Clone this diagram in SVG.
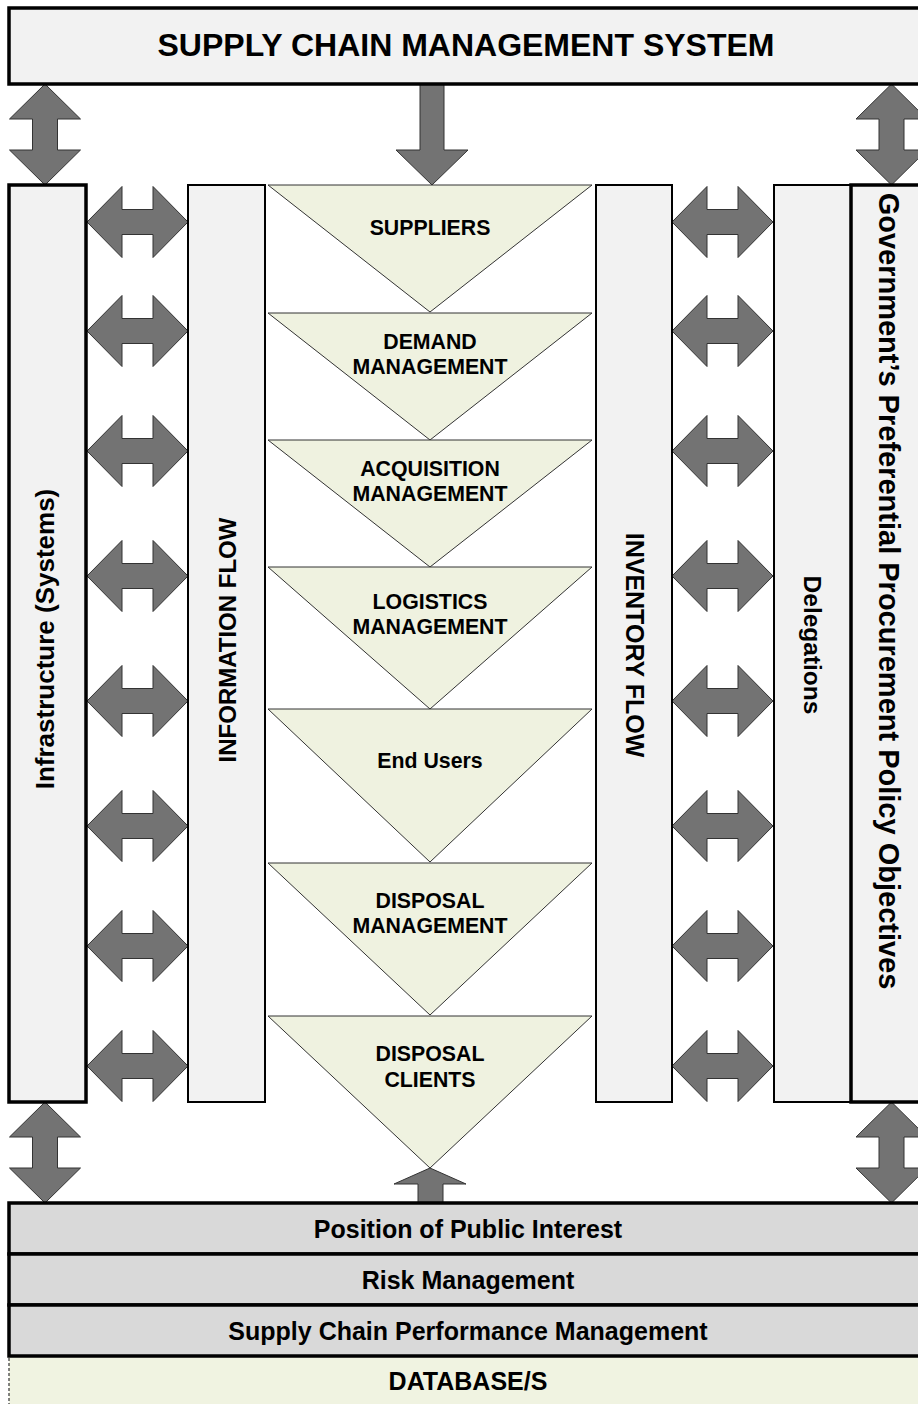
<svg xmlns="http://www.w3.org/2000/svg" xmlns:xlink="http://www.w3.org/1999/xlink" width="918" height="1404" viewBox="0 0 918 1404">
<style>
.box{fill:#F2F2F2;stroke:#000;stroke-width:2}
.thick{stroke-width:3.5}
.band{fill:#D9D9D9;stroke:#000;stroke-width:3.5}
.db{fill:#F0F3E1;stroke:#333;stroke-width:1.2;stroke-dasharray:3,2}
.tri{fill:#EFF2E0;stroke:#333;stroke-width:1}
.arr{fill:#737373;stroke:#333;stroke-width:1}
.t{font-family:"Liberation Sans",Arial,sans-serif;font-weight:bold;fill:#000;text-anchor:middle}
</style>
<defs>
<path id="harr" d="M0,0 L35,-35.5 L35,-12.5 L66,-12.5 L66,-35.5 L101,0 L66,35.5 L66,12.5 L35,12.5 L35,35.5 Z"/>
<path id="varr" d="M0,0 L35.5,35 L12.5,35 L12.5,66 L35.5,66 L0,101 L-35.5,66 L-12.5,66 L-12.5,35 L-35.5,35 Z"/>
</defs>
<rect width="918" height="1404" fill="#fff"/>

<g id="connectors">
<g class="arr">
<use xlink:href="#varr" x="45" y="84"/>
<use xlink:href="#varr" x="891.5" y="84"/>
<use xlink:href="#varr" x="45" y="1102"/>
<use xlink:href="#varr" x="891.5" y="1102"/>
<path d="M420,84 L444,84 L444,150 L468,150 L432,185 L396,150 L420,150 Z"/>
<path d="M430,1168 L466,1184 L443,1184 L443,1203 L418,1203 L418,1184 L394,1184 Z"/>
<use xlink:href="#harr" x="87" y="222"/>
<use xlink:href="#harr" x="87" y="331"/>
<use xlink:href="#harr" x="87" y="451"/>
<use xlink:href="#harr" x="87" y="576"/>
<use xlink:href="#harr" x="87" y="701"/>
<use xlink:href="#harr" x="87" y="826"/>
<use xlink:href="#harr" x="87" y="946"/>
<use xlink:href="#harr" x="87" y="1066"/>
<use xlink:href="#harr" x="672" y="222"/>
<use xlink:href="#harr" x="672" y="331"/>
<use xlink:href="#harr" x="672" y="451"/>
<use xlink:href="#harr" x="672" y="576"/>
<use xlink:href="#harr" x="672" y="701"/>
<use xlink:href="#harr" x="672" y="826"/>
<use xlink:href="#harr" x="672" y="946"/>
<use xlink:href="#harr" x="672" y="1066"/>
</g>
</g>

<g id="scm-system">
<rect class="box thick" x="9" y="8" width="916" height="76"/>
<text class="t" x="466" y="56" font-size="32">SUPPLY CHAIN MANAGEMENT SYSTEM</text>
</g>

<g id="infrastructure">
<rect class="box thick" x="9" y="185" width="77" height="917"/>
<text class="t" font-size="26" transform="translate(54,639) rotate(-90)">Infrastructure (Systems)</text>
</g>

<g id="information-flow">
<rect class="box" x="188" y="185" width="77" height="917"/>
<text class="t" font-size="24" transform="translate(235.5,640) rotate(-90)">INFORMATION FLOW</text>
</g>

<g id="inventory-flow">
<rect class="box" x="596" y="185" width="76" height="917"/>
<text class="t" font-size="25" transform="translate(625.5,645) rotate(90)">INVENTORY FLOW</text>
</g>

<g id="delegations">
<rect class="box" x="774" y="185" width="77" height="917"/>
<text class="t" font-size="24.5" transform="translate(804,645) rotate(90)">Delegations</text>
</g>

<g id="government-policy">
<rect class="box thick" x="851" y="185" width="77" height="917"/>
<text class="t" font-size="29" transform="translate(879,591) rotate(90)">Government’s Preferential Procurement Policy Objectives</text>
</g>

<g id="suppliers">
<path class="tri" d="M268,185 L592,185 L430,312 Z"/>
<text class="t" x="430" y="235" font-size="21.3">SUPPLIERS</text>
</g>
<g id="demand-management">
<path class="tri" d="M268,313 L592,313 L430,440 Z"/>
<text class="t" x="430" y="349" font-size="21.3">DEMAND</text>
<text class="t" x="430" y="374" font-size="21.3">MANAGEMENT</text>
</g>
<g id="acquisition-management">
<path class="tri" d="M268,440 L592,440 L430,567 Z"/>
<text class="t" x="430" y="476" font-size="21.3">ACQUISITION</text>
<text class="t" x="430" y="501" font-size="21.3">MANAGEMENT</text>
</g>
<g id="logistics-management">
<path class="tri" d="M268,567 L592,567 L430,709 Z"/>
<text class="t" x="430" y="609" font-size="21.3">LOGISTICS</text>
<text class="t" x="430" y="634" font-size="21.3">MANAGEMENT</text>
</g>
<g id="end-users">
<path class="tri" d="M268,709 L592,709 L430,862 Z"/>
<text class="t" x="430" y="768" font-size="21.3">End Users</text>
</g>
<g id="disposal-management">
<path class="tri" d="M268,863 L592,863 L430,1015 Z"/>
<text class="t" x="430" y="908" font-size="21.3">DISPOSAL</text>
<text class="t" x="430" y="933" font-size="21.3">MANAGEMENT</text>
</g>
<g id="disposal-clients">
<path class="tri" d="M268,1016 L592,1016 L430,1168 Z"/>
<text class="t" x="430" y="1061" font-size="21.3">DISPOSAL</text>
<text class="t" x="430" y="1087" font-size="21.3">CLIENTS</text>
</g>

<g id="database">
<rect class="db" x="9" y="1356" width="930" height="60"/>
<text class="t" x="468" y="1390" font-size="25">DATABASE/S</text>
</g>
<g id="public-interest">
<rect class="band" x="9" y="1203" width="930" height="51"/>
<text class="t" x="468" y="1238" font-size="25">Position of Public Interest</text>
</g>
<g id="risk-management">
<rect class="band" x="9" y="1254" width="930" height="51"/>
<text class="t" x="468" y="1289" font-size="25">Risk Management</text>
</g>
<g id="performance-management">
<rect class="band" x="9" y="1305" width="930" height="51"/>
<text class="t" x="468" y="1340" font-size="25">Supply Chain Performance Management</text>
</g>
</svg>
